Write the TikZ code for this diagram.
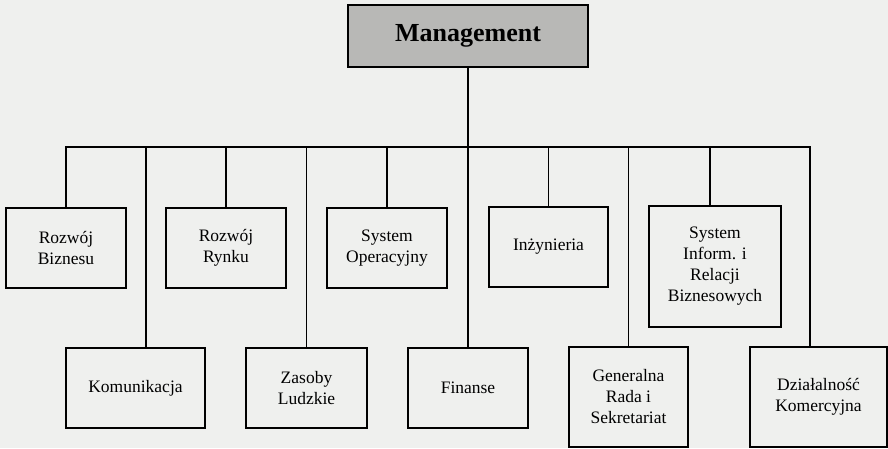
\documentclass[tikz,border=0pt]{standalone}
\usepackage{fontspec}
\setmainfont{Liberation Serif}
\definecolor{PaperGray}{RGB}{239,240,238}
\definecolor{HeadGray}{RGB}{184,184,182}

\begin{document}
\begin{tikzpicture}[x = 1pt, y = -1pt]
\tikzstyle{UnitStyle}=[
shape = rectangle,
draw,
line width = 1.4pt,
fill = PaperGray,
align = center,
inner sep = 2pt,
font = \fontsize{17.5}{21}\selectfont]
\tikzstyle{HeadStyle}=[
shape = rectangle,
draw,
line width = 2pt,
fill = HeadGray,
minimum width = 240pt,
minimum height = 62pt,
font = \fontsize{26}{30}\selectfont\bfseries]
\tikzstyle{LinkStyle}=[line width = 1.3pt]
\fill[PaperGray] (0,0) rectangle (888,448);
\useasboundingbox (0,0) rectangle (888,448);
\node[HeadStyle] (mgmt) at (468,36) {Management};
\coordinate (bus) at (468,147);
\node[UnitStyle, minimum width = 120pt, minimum height = 80pt] (rb) at (66,248) {Rozwój\\Biznesu};
\node[UnitStyle, minimum width = 120pt, minimum height = 80pt] (rr) at (226,248) {Rozwój\\Rynku};
\node[UnitStyle, minimum width = 120pt, minimum height = 80pt] (so) at (387,248) {System\\Operacyjny};
\node[UnitStyle, minimum width = 119pt, minimum height = 80pt] (in) at (548.5,247) {Inżynieria};
\node[UnitStyle, minimum width = 132pt, minimum height = 121pt] (si) at (715,266.5) {System\\Inform. i\\Relacji\\Biznesowych};
\node[UnitStyle, minimum width = 139pt, minimum height = 80pt] (ko) at (135.5,388) {Komunikacja};
\node[UnitStyle, minimum width = 121pt, minimum height = 80pt] (zl) at (306.5,388) {Zasoby\\Ludzkie};
\node[UnitStyle, minimum width = 120pt, minimum height = 80pt] (fi) at (468,388) {Finanse};
\node[UnitStyle, minimum width = 119pt, minimum height = 100pt] (gr) at (628.5,397) {Generalna\\Rada i\\Sekretariat};
\node[UnitStyle, minimum width = 137pt, minimum height = 100pt] (dk) at (818.5,397) {Działalność\\Komercyjna};
\draw[LinkStyle] (mgmt) -- (bus);
\draw[LinkStyle] (rb.north) |- ([xshift = -8.5pt]dk.north |- bus) -- ([xshift = -8.5pt]dk.north);
\draw[LinkStyle] ([xshift = 10.5pt]ko.north) -- ([xshift = 10.5pt]ko.north |- bus);
\draw[LinkStyle] (rr.north) -- (rr.north |- bus);
\draw[LinkStyle] (zl.north) -- (zl.north |- bus);
\draw[LinkStyle] (so.north) -- (so.north |- bus);
\draw[LinkStyle] (fi.north) -- (fi.north |- bus);
\draw[LinkStyle] (in.north) -- (in.north |- bus);
\draw[LinkStyle] (gr.north) -- (gr.north |- bus);
\draw[LinkStyle] ([xshift = -5pt]si.north) -- ([xshift = -5pt]si.north |- bus);
\end{tikzpicture}
\end{document}
